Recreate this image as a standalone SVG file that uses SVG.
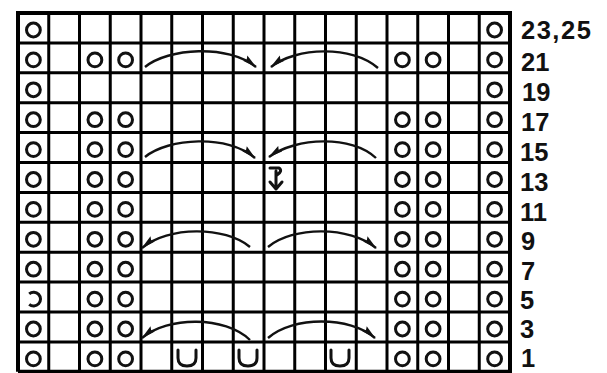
<svg xmlns="http://www.w3.org/2000/svg" width="607" height="373" viewBox="0 0 607 373">
<style>
.g{stroke:#000;stroke-width:3;fill:none}
.b{stroke:#000;stroke-width:4;fill:none}
.o{stroke:#111;stroke-width:3;fill:none}
.a{stroke:#111;stroke-width:2.4;fill:none}
.s{stroke:#111;stroke-width:3;fill:none;stroke-linecap:round;stroke-linejoin:round}
.t{font-family:"Liberation Sans",Arial,sans-serif;font-weight:bold;font-size:25.5px;fill:#111}
</style>
<defs>
<marker id="ah" viewBox="0 0 15 8" refX="14" refY="4" markerWidth="15" markerHeight="8" markerUnits="userSpaceOnUse" orient="auto">
<path d="M0,0.6 L15,4 L0,7.4 L2,4 z" fill="#111"/>
</marker>
<circle id="c" r="6.9" class="o"/>
</defs>
<rect width="607" height="373" fill="#fff"/>
<g id="grid">
<path class="g" d="M48.75,13V372M79.5,13V372M110.25,13V372M141,13V372M171.75,13V372M202.5,13V372M233.25,13V372M264,13V372M294.75,13V372M325.5,13V372M356.25,13V372M387,13V372M417.75,13V372M448.5,13V372M479.25,13V372"/>
<path class="g" d="M18,42.9H510M18,72.8H510M18,102.7H510M18,132.6H510M18,162.5H510M18,192.4H510M18,222.3H510M18,252.2H510M18,282.1H510M18,312H510M18,341.9H510"/>
<path class="b" d="M18,371.8V13H510V371.8H18"/>
</g>
<g id="circles">
<use href="#c" x="33.4" y="30"/><use href="#c" x="494.6" y="30"/>
<use href="#c" x="33.4" y="59.9"/><use href="#c" x="94.9" y="59.9"/><use href="#c" x="125.6" y="59.9"/><use href="#c" x="402.4" y="59.9"/><use href="#c" x="433.1" y="59.9"/><use href="#c" x="494.6" y="59.9"/>
<use href="#c" x="33.4" y="89.8"/><use href="#c" x="494.6" y="89.8"/>
<use href="#c" x="33.4" y="119.7"/><use href="#c" x="94.9" y="119.7"/><use href="#c" x="125.6" y="119.7"/><use href="#c" x="402.4" y="119.7"/><use href="#c" x="433.1" y="119.7"/><use href="#c" x="494.6" y="119.7"/>
<use href="#c" x="33.4" y="149.6"/><use href="#c" x="94.9" y="149.6"/><use href="#c" x="125.6" y="149.6"/><use href="#c" x="402.4" y="149.6"/><use href="#c" x="433.1" y="149.6"/><use href="#c" x="494.6" y="149.6"/>
<use href="#c" x="33.4" y="179.5"/><use href="#c" x="94.9" y="179.5"/><use href="#c" x="125.6" y="179.5"/><use href="#c" x="402.4" y="179.5"/><use href="#c" x="433.1" y="179.5"/><use href="#c" x="494.6" y="179.5"/>
<use href="#c" x="33.4" y="209.4"/><use href="#c" x="94.9" y="209.4"/><use href="#c" x="125.6" y="209.4"/><use href="#c" x="402.4" y="209.4"/><use href="#c" x="433.1" y="209.4"/><use href="#c" x="494.6" y="209.4"/>
<use href="#c" x="33.4" y="239.3"/><use href="#c" x="94.9" y="239.3"/><use href="#c" x="125.6" y="239.3"/><use href="#c" x="402.4" y="239.3"/><use href="#c" x="433.1" y="239.3"/><use href="#c" x="494.6" y="239.3"/>
<use href="#c" x="33.4" y="269.2"/><use href="#c" x="94.9" y="269.2"/><use href="#c" x="125.6" y="269.2"/><use href="#c" x="402.4" y="269.2"/><use href="#c" x="433.1" y="269.2"/><use href="#c" x="494.6" y="269.2"/>
<path class="o" d="M29.2,293.8 A6.9,6.9 0 1 1 29.2,304.4"/><use href="#c" x="94.9" y="299.1"/><use href="#c" x="125.6" y="299.1"/><use href="#c" x="402.4" y="299.1"/><use href="#c" x="433.1" y="299.1"/><use href="#c" x="494.6" y="299.1"/>
<use href="#c" x="33.4" y="329"/><use href="#c" x="94.9" y="329"/><use href="#c" x="125.6" y="329"/><use href="#c" x="402.4" y="329"/><use href="#c" x="433.1" y="329"/><use href="#c" x="494.6" y="329"/>
<use href="#c" x="33.4" y="358.9"/><use href="#c" x="94.9" y="358.9"/><use href="#c" x="125.6" y="358.9"/><use href="#c" x="402.4" y="358.9"/><use href="#c" x="433.1" y="358.9"/><use href="#c" x="494.6" y="358.9"/>
</g>
<g id="symbols">
<path class="s" d="M178,350 V358 Q178,366 187,366 Q196,366 196,358 V350"/>
<path class="s" d="M239,350 V358 Q239,366 248,366 Q257,366 257,358 V350"/>
<path class="s" d="M331,350 V358 Q331,366 340,366 Q349,366 349,358 V350"/>
<path class="s" d="M270,168 H279 Q283,171 277,175 M276,171 V189 M270,182 L276,189 L282,182"/>
</g>
<g id="connectors">
<path class="a" marker-end="url(#ah)" d="M145,67 C168,48 228,44 256,67"/>
<path class="a" marker-end="url(#ah)" d="M378,68 C352,45 296,47 271,67"/>
<path class="a" marker-end="url(#ah)" d="M145,157 C168,138 228,134 255,158"/>
<path class="a" marker-end="url(#ah)" d="M376,158 C352,135 296,137 269,157"/>
<path class="a" marker-end="url(#ah)" d="M250,247 C225,226 168,226 142,248"/>
<path class="a" marker-end="url(#ah)" d="M268,247 C293,226 350,226 376,248"/>
<path class="a" marker-end="url(#ah)" d="M250,340 C225,316 168,316 142,338"/>
<path class="a" marker-end="url(#ah)" d="M268,338 C293,316 350,316 375,338"/>
</g>
<g id="labels">
<text class="t" x="521" y="39" letter-spacing="1.5">23,25</text>
<text class="t" x="521" y="71">21</text>
<text class="t" x="522" y="101">19</text>
<text class="t" x="521" y="131">17</text>
<text class="t" x="520" y="161">15</text>
<text class="t" x="520" y="191">13</text>
<text class="t" x="520" y="221">11</text>
<text class="t" x="521" y="250">9</text>
<text class="t" x="521" y="280">7</text>
<text class="t" x="520" y="309">5</text>
<text class="t" x="520" y="338">3</text>
<text class="t" x="521" y="367">1</text>
</g>
</svg>
